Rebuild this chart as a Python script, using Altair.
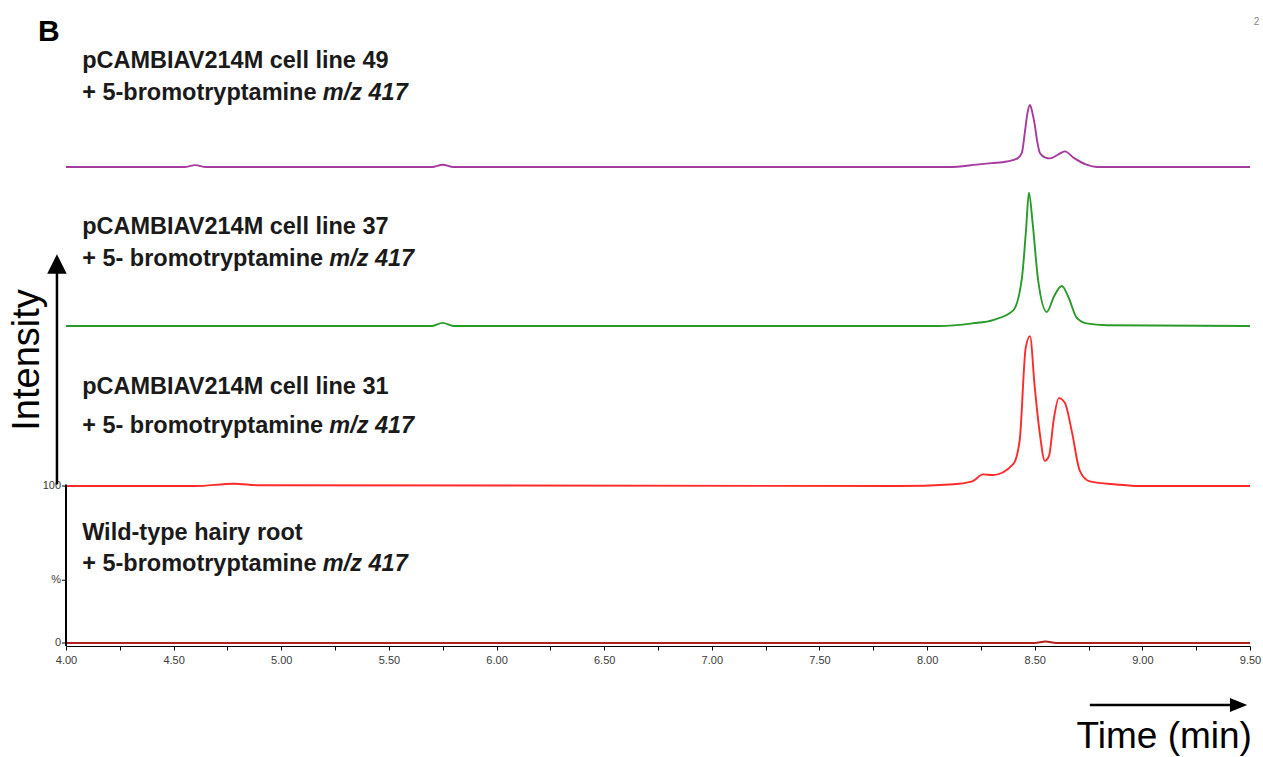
import altair as alt
import pandas as pd

# ---- chromatogram traces (retention time in min, relative intensity above each trace's own baseline)
purple_t = [4.00, 4.55, 4.60, 4.65, 5.70, 5.75, 5.80, 8.10, 8.23, 8.30, 8.37, 8.42, 8.44, 8.455,
            8.467, 8.478, 8.49, 8.50, 8.512, 8.524, 8.55, 8.57, 8.61, 8.64, 8.68, 8.74, 8.79, 9.50]
purple_v = [0.0, 0.0, 1.2, 0.0, 0.0, 1.5, 0.0, 0.0, 1.5, 2.5, 3.5, 5.5, 9.0, 23.0,
            35.0, 39.5, 34.0, 27.0, 16.0, 9.0, 6.0, 5.5, 8.0, 10.0, 6.0, 1.5, 0.0, 0.0]

green_t = [4.00, 5.70, 5.75, 5.80, 8.05, 8.21, 8.31, 8.40, 8.44, 8.46, 8.473, 8.49, 8.515, 8.556,
           8.59, 8.626, 8.655, 8.695, 8.74, 8.835, 9.50]
green_v = [0.0, 0.0, 2.0, 0.0, 0.0, 1.7, 4.0, 10.0, 30.0, 62.0, 85.0, 66.0, 30.0, 9.0,
           19.0, 25.5, 19.0, 5.3, 1.7, 0.5, 0.0]

red_t = [4.00, 4.60, 4.78, 4.90, 7.87, 8.106, 8.21, 8.26, 8.305, 8.40, 8.43, 8.458, 8.478, 8.50,
         8.524, 8.547, 8.566, 8.589, 8.612, 8.64, 8.672, 8.71, 8.756, 8.88, 8.99, 9.50]
red_v = [0.0, 0.0, 1.5, 0.5, 0.0, 1.0, 3.0, 7.4, 7.0, 14.0, 29.0, 88.0, 95.5, 63.0,
         33.0, 16.0, 19.0, 43.0, 56.0, 53.0, 35.0, 9.5, 3.0, 1.0, 0.0, 0.0]

wild_t = [4.00, 8.50, 8.55, 8.60, 9.50]
wild_v = [0.0, 0.0, 1.0, 0.0, 0.0]

trace_names = ["line 49", "line 37", "line 31", "wild type"]
trace_offsets = [303.2, 201.9, 100.0, 0.0]
trace_colors = ["#a53a9f", "#2a9a2a", "#ff2b2b", "#b0201c"]

x_ticks = [4.00, 4.25, 4.50, 4.75, 5.00, 5.25, 5.50, 5.75, 6.00, 6.25, 6.50, 6.75, 7.00, 7.25,
           7.50, 7.75, 8.00, 8.25, 8.50, 8.75, 9.00, 9.25, 9.50]

# sample labels: (first line, second line before italic part, italic part)
label_line1 = ["pCAMBIAV214M cell line 49", "pCAMBIAV214M cell line 37",
               "pCAMBIAV214M cell line 31", "Wild-type hairy root"]
label_line2 = ["+ 5-bromotryptamine", "+ 5- bromotryptamine",
               "+ 5- bromotryptamine", "+ 5-bromotryptamine"]
label_italic = ["m/z 417", "m/z 417", "m/z 417", "m/z 417"]

# ---- layout of the annotation text (data units of the x / y scales)
label_x = 4.075
label_y1 = [366.3, 260.5, 158.6, 65.6]
label_y2 = [345.9, 240.1, 133.8, 45.9]
italic_x = [5.193, 5.223, 5.223, 5.193]

rows = []
for name, off, ts, vs in zip(trace_names,
                             trace_offsets,
                             [purple_t, green_t, red_t, wild_t],
                             [purple_v, green_v, red_v, wild_v]):
    for t, v in zip(ts, vs):
        rows.append({"trace": name, "time": t, "y": off + v})
traces = pd.DataFrame(rows)

xs = alt.Scale(domain=[4.0, 9.5], nice=False, zero=False)
ys = alt.Scale(domain=[-1.9, 409.6], nice=False, zero=False)

xaxis = alt.Axis(values=x_ticks,
                 labelExpr="(datum.value * 2) % 1 == 0 ? format(datum.value, '.2f') : ''",
                 domainColor="black", domainWidth=1, tickColor="black", tickWidth=1,
                 tickSize=4, labelFontSize=11, labelColor="#3a3a3a", labelFont="Liberation Sans",
                 labelPadding=4, labelOverlap=False, labelFlush=False, grid=False, title=None)


def X(v):
    return alt.X(datum=v, type="quantitative", scale=xs, axis=xaxis)


def Y(v):
    return alt.Y(datum=v, type="quantitative", scale=ys, axis=None)


lines = alt.Chart(traces).mark_line(strokeWidth=1.9, clip=False, interpolate="monotone").encode(
    x=alt.X("time:Q", scale=xs, axis=xaxis),
    y=alt.Y("y:Q", scale=ys, axis=None),
    color=alt.Color("trace:N", scale=alt.Scale(domain=trace_names, range=trace_colors), legend=None),
    detail="trace:N",
)

# left "%" axis of the bottom trace
yaxis_line = alt.Chart().mark_rule(color="black", strokeWidth=2).encode(
    x=X(4.0), y=Y(-1.9), y2=alt.Y2(datum=101.0))
yticks = [alt.Chart().mark_rule(color="black", strokeWidth=1).encode(
    x=X(4.0), x2=alt.X2(datum=3.981), y=Y(v)) for v in [0, 40, 100]]
ylabels = [alt.Chart().mark_text(align="right", baseline="middle", dx=-5, fontSize=11,
                                 font="Liberation Sans", color="#3a3a3a").encode(
    x=X(4.0), y=Y(v), text=alt.value(s)) for v, s in [(0, "0"), (40, "%"), (100, "100")]]

# Intensity arrow
int_line = alt.Chart().mark_rule(color="black", strokeWidth=2.5).encode(
    x=X(3.958), y=Y(101.0), y2=alt.Y2(datum=239.0))
int_head = alt.Chart().mark_point(shape="M0,-1L1,1L-1,1Z", size=380, filled=True, opacity=1,
                                  color="black").encode(x=X(3.958), y=Y(241.5))
int_text = alt.Chart().mark_text(angle=270, align="center", baseline="middle", fontSize=38,
                                 font="Liberation Sans", color="black").encode(
    x=X(3.8235), y=Y(180.3), text=alt.value("Intensity"))

# Time arrow
time_line = alt.Chart().mark_rule(color="black", strokeWidth=2.5).encode(
    x=X(8.756), x2=alt.X2(datum=9.43), y=Y(-39.5))
time_head = alt.Chart().mark_point(shape="M1,0L-1,-0.8L-1,0.8Z", size=300, filled=True, opacity=1,
                                   color="black").encode(x=X(9.447), y=Y(-39.5))
time_text = alt.Chart().mark_text(align="right", baseline="alphabetic", fontSize=37,
                                  font="Liberation Sans", color="black").encode(
    x=X(9.509), y=Y(-66.9), text=alt.value("Time (min)"))

panel_letter = alt.Chart().mark_text(align="left", baseline="alphabetic", fontSize=30,
                                     fontWeight="bold", font="Liberation Sans",
                                     color="black").encode(
    x=X(3.87), y=Y(383.4), text=alt.value("B"))
corner_mark = alt.Chart().mark_text(align="left", baseline="middle", fontSize=10,
                                    font="Liberation Sans", color="#888888").encode(
    x=X(9.518), y=Y(395.6), text=alt.value("2"))

label_layers = []
for i in range(4):
    label_layers.append(alt.Chart().mark_text(
        align="left", baseline="alphabetic", fontSize=23.5, fontWeight="bold",
        font="Liberation Sans", color="#1a1a1a").encode(
        x=X(label_x), y=Y(label_y1[i]), text=alt.value(label_line1[i])))
    label_layers.append(alt.Chart().mark_text(
        align="left", baseline="alphabetic", fontSize=23.5, fontWeight="bold",
        font="Liberation Sans", color="#1a1a1a").encode(
        x=X(label_x), y=Y(label_y2[i]), text=alt.value(label_line2[i])))
    label_layers.append(alt.Chart().mark_text(
        align="left", baseline="alphabetic", fontSize=23.5, fontWeight="bold", fontStyle="italic",
        font="Liberation Sans", color="#1a1a1a").encode(
        x=X(italic_x[i]), y=Y(label_y2[i]), text=alt.value(label_italic[i])))

chart = alt.layer(
    lines, yaxis_line, *yticks, *ylabels, int_line, int_head, int_text,
    time_line, time_head, time_text, panel_letter, corner_mark, *label_layers
).properties(
    width=1184, height=646,
    autosize=alt.AutoSizeParams(type="none"),
    padding={"left": 66, "top": 0, "right": 13, "bottom": 111},
    background="white",
).configure_view(stroke=None)

chart.save("out.html", embed_options={"renderer": "svg", "actions": False})
